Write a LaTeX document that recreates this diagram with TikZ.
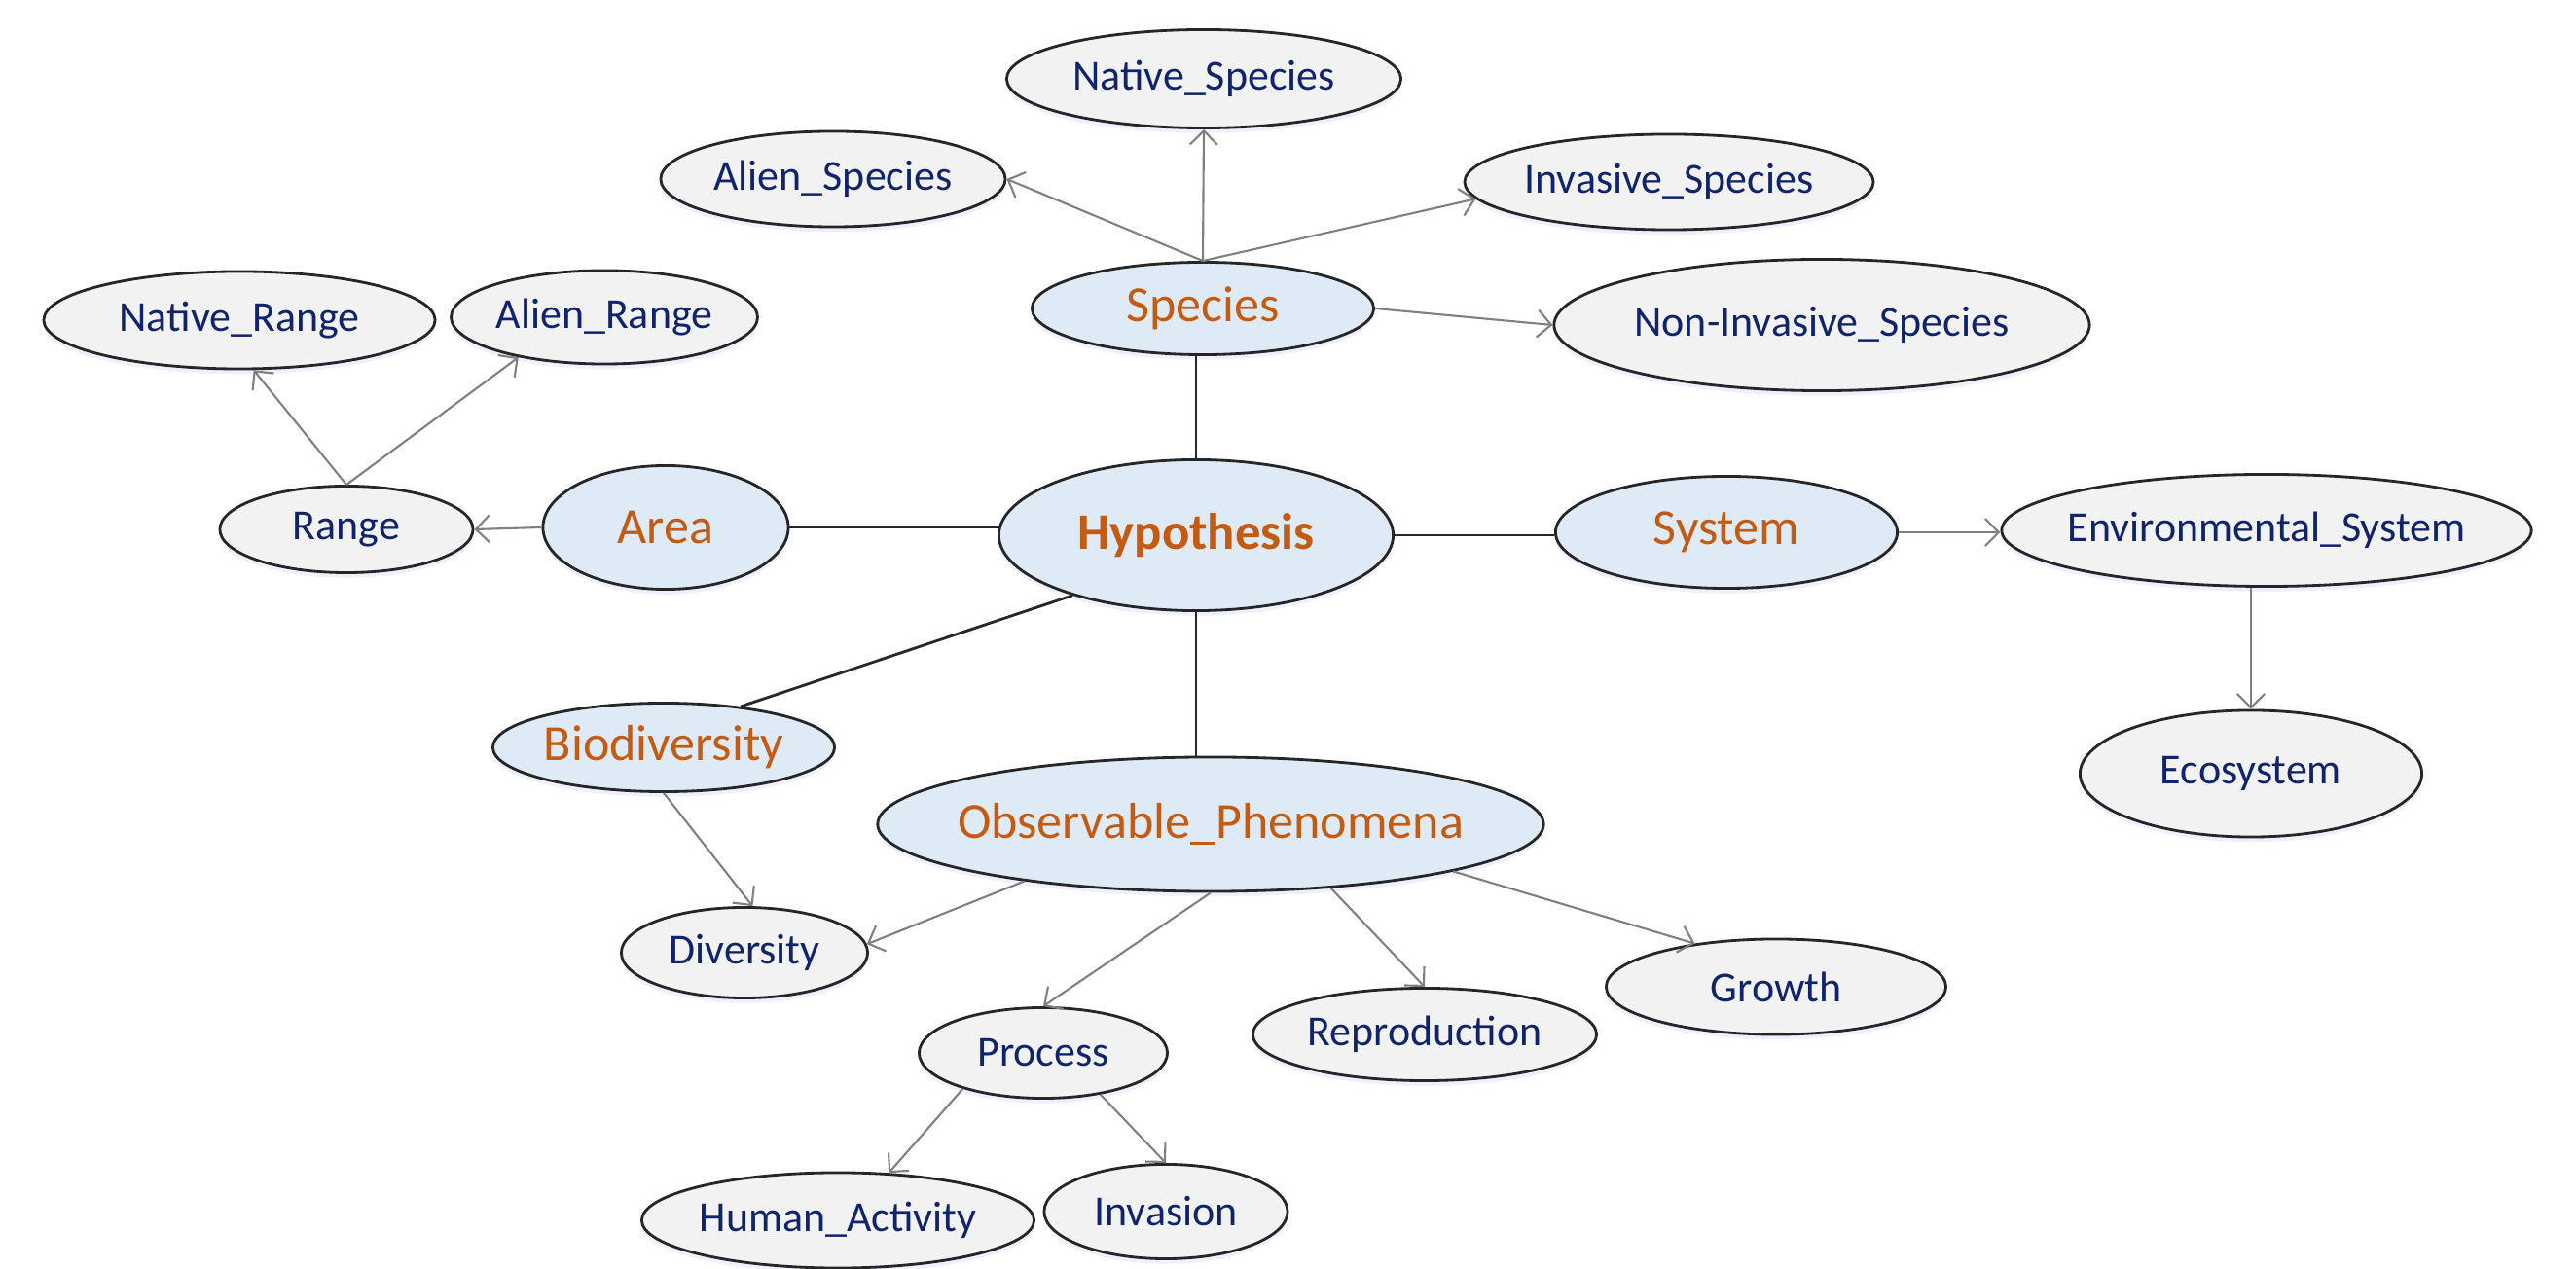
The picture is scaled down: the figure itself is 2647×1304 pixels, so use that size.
\documentclass[tikz,border=0pt]{standalone}
\usepackage{fontspec}
\setmainfont{Carlito}
\usetikzlibrary{shapes.geometric,arrows.meta,shadows}
\definecolor{orangetxt}{RGB}{197,90,17}
\definecolor{bluetxt}{RGB}{16,36,110}
\definecolor{mainfill}{RGB}{222,235,247}
\definecolor{subfill}{RGB}{242,242,242}
\definecolor{edgegray}{RGB}{128,128,128}
\definecolor{linkdark}{RGB}{40,40,40}
\tikzset{
  bub/.style={ellipse, draw=black!85, line width=0.8pt, inner sep=0pt,
    drop shadow={shadow xshift=0pt, shadow yshift=-1.5pt, opacity=0.35, fill=blue!18}},
  mainbub/.style={bub, fill=mainfill, text=orangetxt, font=\fontsize{14.8}{16}\selectfont},
  subbub/.style={bub, fill=subfill, text=bluetxt, font=\fontsize{12.5}{14}\selectfont},
  hub/.style={bub, fill=mainfill, text=orangetxt, font=\fontsize{15}{17}\selectfont\bfseries},
  tight/.style={inner xsep=-0.2cm},
  link/.style={draw=linkdark, line width=0.8pt},
  arr/.style={draw=edgegray, line width=0.6pt, -{Straight Barb[length=4pt,width=8pt]}}
}
\begin{document}
\begin{tikzpicture}[x=0.01cm,y=-0.01cm]
\useasboundingbox (0,0) rectangle (2647,1304);
% central
\node[hub, minimum width=4.05cm, minimum height=1.55cm] (hy) at (1229,550) {Hypothesis};
% main
\node[mainbub, minimum width=3.51cm, minimum height=0.95cm] (sp) at (1236,317) {Species};
\node[mainbub, minimum width=2.52cm, minimum height=1.27cm] (area) at (684,542) {Area};
\node[mainbub, minimum width=3.51cm, minimum height=1.15cm] (sys) at (1774,547) {System};
\node[mainbub, minimum width=3.51cm, minimum height=0.91cm] (bd) at (682,768) {Biodiversity};
\node[mainbub, tight, minimum width=6.84cm, minimum height=1.38cm] (ob) at (1244,847) {Observable\_Phenomena};
% sub
\node[subbub, minimum width=4.05cm, minimum height=1.01cm] (ns) at (1237,81) {Native\_Species};
\node[subbub, minimum width=3.54cm, minimum height=0.98cm] (as) at (856,184) {Alien\_Species};
\node[subbub, minimum width=4.02cm, minimum height=0.98cm] (is) at (1715,187) {Invasive\_Species};
\node[subbub, tight, minimum width=5.50cm, minimum height=1.35cm] (ni) at (1872,334) {Non-Invasive\_Species};
\node[subbub, minimum width=4.02cm, minimum height=1.00cm] (nr) at (246,329) {Native\_Range};
\node[subbub, minimum width=3.04cm, minimum height=0.96cm] (arng) at (621,326) {Alien\_Range};
\node[subbub, minimum width=2.60cm, minimum height=0.89cm] (rg) at (356,544) {Range};
\node[subbub, tight, minimum width=5.44cm, minimum height=1.15cm] (env) at (2329,545) {Environmental\_System};
\node[subbub, minimum width=3.51cm, minimum height=1.30cm] (eco) at (2313,795) {Ecosystem};
\node[subbub, minimum width=2.53cm, minimum height=0.93cm] (dv) at (765,979) {Diversity};
\node[subbub, minimum width=2.55cm, minimum height=0.93cm] (pr) at (1072,1082) {Process};
\node[subbub, minimum width=3.53cm, minimum height=0.95cm] (rp) at (1464,1063) {Reproduction};
\node[subbub, minimum width=3.49cm, minimum height=0.98cm] (gr) at (1825,1014) {Growth};
\node[subbub, minimum width=4.03cm, minimum height=0.98cm] (ha) at (861,1254) {Human\_Activity};
\node[subbub, minimum width=2.50cm, minimum height=0.97cm] (inv) at (1198,1245) {Invasion};
% plain links to hub
\draw[link] (hy.north |- sp.south) -- (hy.north);
\draw[link] (area.east) -- (area.east -| hy.west);
\draw[link] (hy.east) -- (hy.east -| sys.west);
\draw[link] (hy.206) -- (bd.28);
\draw[link] (hy.south) -- (hy.south |- ob.north);
% arrows
\draw[arr] (sp.north) -- (ns.south);
\draw[arr] (sp.north) -- (as.east);
\draw[arr] (sp.north) -- (is.185);
\draw[arr] (sp.east) -- (ni.west);
\draw[arr] (area.west) -- (rg.east);
\draw[arr] (rg.north) -- (nr.286);
\draw[arr] (rg.north) -- (arng.205);
\draw[arr] (sys.east) -- (sys.east -| env.west);
\draw[arr] (eco.north |- env.south) -- (eco.north);
\draw[arr] (bd.south) -- (dv.80);
\draw[arr] (ob.197) -- (dv.4);
\draw[arr] (ob.south) -- (pr.north);
\draw[arr] (ob.-28) -- (rp.north);
\draw[arr] (ob.-11) -- (gr.152);
\draw[arr] (pr.204) -- (ha.43);
\draw[arr] (pr.-36) -- (inv.north);
\end{tikzpicture}
\end{document}
